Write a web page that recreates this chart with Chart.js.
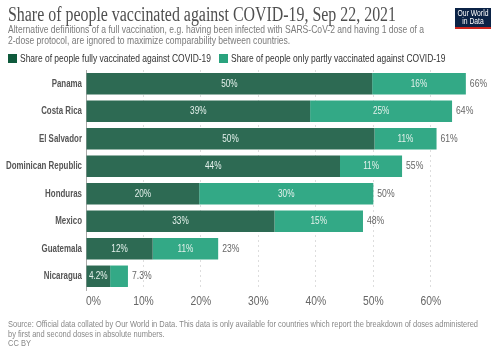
<!DOCTYPE html>
<html>
<head>
<meta charset="utf-8">
<script src="https://cdn.jsdelivr.net/npm/chart.js@4/dist/chart.umd.min.js"></script>
<style>
  html, body { margin: 0; padding: 0; background: #fff; }
  #wrap { width: 500px; height: 353px; position: relative; }
</style>
</head>
<body>
<div id="wrap"><canvas id="chart" width="500" height="353"></canvas></div>
<script>
// data
const countries = ['Panama', 'Costa Rica', 'El Salvador', 'Dominican Republic', 'Honduras', 'Mexico', 'Guatemala', 'Nicaragua'];
const fullyVaccinated = [49.8, 39.0, 50.2, 44.2, 19.7, 32.8, 11.6, 4.2];
const partlyVaccinated = [16.3, 24.7, 10.8, 10.8, 30.3, 15.4, 11.4, 3.1];
const totals = [66.1, 63.7, 61.0, 55.0, 50.0, 48.2, 23.0, 7.3];
const xTicks = [0, 10, 20, 30, 40, 50, 60];

const titleText = 'Share of people vaccinated against COVID-19, Sep 22, 2021';
const subtitleLines = [
  'Alternative definitions of a full vaccination, e.g. having been infected with SARS-CoV-2 and having 1 dose of a',
  '2-dose protocol, are ignored to maximize comparability between countries.'
];
const footerLines = [
  'Source: Official data collated by Our World in Data. This data is only available for countries which report the breakdown of doses administered',
  'by first and second doses in absolute numbers.',
  'CC BY'
];

const SANS = '"Liberation Sans", Arial, sans-serif';
const SERIF = '"Liberation Serif", "DejaVu Serif", serif';
const DARK = '#2d6a53';
const LIGHT = '#33a986';
const SQUEEZE = 0.82; // the reference uses a narrower face than Arial

function fmt(v) {
  return (v >= 10 ? Math.round(v) : v.toFixed(1)) + '%';
}

// draw text squeezed horizontally by sx
function squeezed(ctx, text, x, y, sx, align) {
  ctx.save();
  ctx.translate(x, y);
  ctx.scale(sx, 1);
  ctx.textAlign = align || 'left';
  ctx.fillText(text, 0, 0);
  ctx.restore();
}

// header, legend, footer, logo, axis labels
const decorations = {
  id: 'decorations',
  afterDraw(chart) {
    const ctx = chart.ctx;
    ctx.save();
    ctx.textBaseline = 'middle';

    ctx.fillStyle = '#4f4f4f';
    ctx.font = '20px ' + SERIF;
    squeezed(ctx, titleText, 8, 16, 388 / ctx.measureText(titleText).width);

    ctx.fillStyle = '#7a7a7a';
    ctx.font = '11px ' + SANS;
    const subSx = 416 / ctx.measureText(subtitleLines[0]).width;
    squeezed(ctx, subtitleLines[0], 8, 30, subSx);
    squeezed(ctx, subtitleLines[1], 8, 41, subSx);

    // legend built from datasets
    let lx = 8;
    ctx.font = '11px ' + SANS;
    const legSx = 191 / ctx.measureText(chart.data.datasets[0].label).width;
    chart.data.datasets.forEach(ds => {
      ctx.fillStyle = ds.legendColor;
      ctx.fillRect(lx, 54, 9, 9);
      ctx.fillStyle = '#333';
      squeezed(ctx, ds.label, lx + 12, 58.5, legSx);
      lx += 12 + ctx.measureText(ds.label).width * legSx + 8;
    });

    ctx.fillStyle = '#888';
    ctx.font = '9.8px ' + SANS;
    const footSx = 470 / ctx.measureText(footerLines[0]).width;
    footerLines.forEach((l, i) => squeezed(ctx, l, 8, 324 + i * 9.8, footSx));

    // country labels from the y scale
    const y = chart.scales.y;
    ctx.fillStyle = '#555';
    ctx.font = 'bold 10.5px ' + SANS;
    const ySx = 76 / ctx.measureText('Dominican Republic').width;
    chart.data.labels.forEach((lab, i) => {
      squeezed(ctx, lab, y.right - 4, y.getPixelForTick(i), ySx, 'right');
    });

    // percent labels from the x scale, first one starts at the axis
    const x = chart.scales.x;
    ctx.fillStyle = '#666';
    ctx.font = '12px ' + SANS;
    xTicks.forEach((v, i) => {
      const px = x.getPixelForValue(v);
      squeezed(ctx, v + '%', px, x.top + 12, 0.86, i === 0 ? 'left' : 'center');
    });

    // logo
    ctx.fillStyle = '#0b2346';
    ctx.fillRect(455, 8, 36, 21);
    ctx.fillStyle = '#ce261e';
    ctx.fillRect(455, 27, 36, 2);
    ctx.fillStyle = '#fff';
    ctx.font = '8.5px ' + SANS;
    squeezed(ctx, 'Our World', 473, 14, 0.8, 'center');
    squeezed(ctx, 'in Data', 473, 22, 0.8, 'center');
    ctx.restore();
  }
};

// value labels inside bars and totals at the end
const barLabels = {
  id: 'barLabels',
  afterDatasetsDraw(chart) {
    const ctx = chart.ctx;
    ctx.save();
    ctx.textBaseline = 'middle';
    ctx.font = '10px ' + SANS;
    ctx.fillStyle = '#e4f1ec';
    chart.data.datasets.forEach((ds, di) => {
      const meta = chart.getDatasetMeta(di);
      meta.data.forEach((bar, i) => {
        const txt = fmt(ds.data[i]);
        const w = Math.abs(bar.x - bar.base);
        if (ctx.measureText(txt).width * SQUEEZE + 3 < w) {
          squeezed(ctx, txt, (bar.x + bar.base) / 2, bar.y, SQUEEZE, 'center');
        }
      });
    });
    const last = chart.getDatasetMeta(chart.data.datasets.length - 1);
    ctx.fillStyle = '#666';
    ctx.font = '10.5px ' + SANS;
    last.data.forEach((bar, i) => {
      squeezed(ctx, fmt(totals[i]), bar.x + 4, bar.y, SQUEEZE);
    });
    ctx.restore();
  }
};

new Chart(document.getElementById('chart'), {
  type: 'bar',
  data: {
    labels: countries,
    datasets: [
      {
        label: 'Share of people fully vaccinated against COVID-19',
        data: fullyVaccinated,
        backgroundColor: DARK,
        legendColor: '#0f5a3c'
      },
      {
        label: 'Share of people only partly vaccinated against COVID-19',
        data: partlyVaccinated,
        backgroundColor: LIGHT,
        legendColor: '#2aa37e'
      }
    ]
  },
  options: {
    indexAxis: 'y',
    responsive: false,
    animation: false,
    devicePixelRatio: 1,
    layout: { padding: { top: 70, right: 33, bottom: 41, left: 0 } },
    datasets: {
      bar: { categoryPercentage: 1, barPercentage: 0.78, borderWidth: 0 }
    },
    plugins: {
      legend: { display: false },
      title: { display: false },
      tooltip: { enabled: false }
    },
    scales: {
      x: {
        stacked: true,
        min: 0,
        max: 66.3,
        afterBuildTicks: s => { s.ticks = xTicks.map(v => ({ value: v })); },
        afterFit: s => { s.height = 22; },
        ticks: { display: false },
        grid: { color: '#dddddd', drawTicks: false, tickLength: 0 },
        border: { display: false, dash: [2, 3] }
      },
      y: {
        stacked: true,
        afterFit: s => { s.width = 86; },
        ticks: { display: false },
        grid: { display: false, drawTicks: false },
        border: { display: true, color: '#aaa' }
      }
    }
  },
  plugins: [barLabels, decorations]
});
</script>
</body>
</html>
